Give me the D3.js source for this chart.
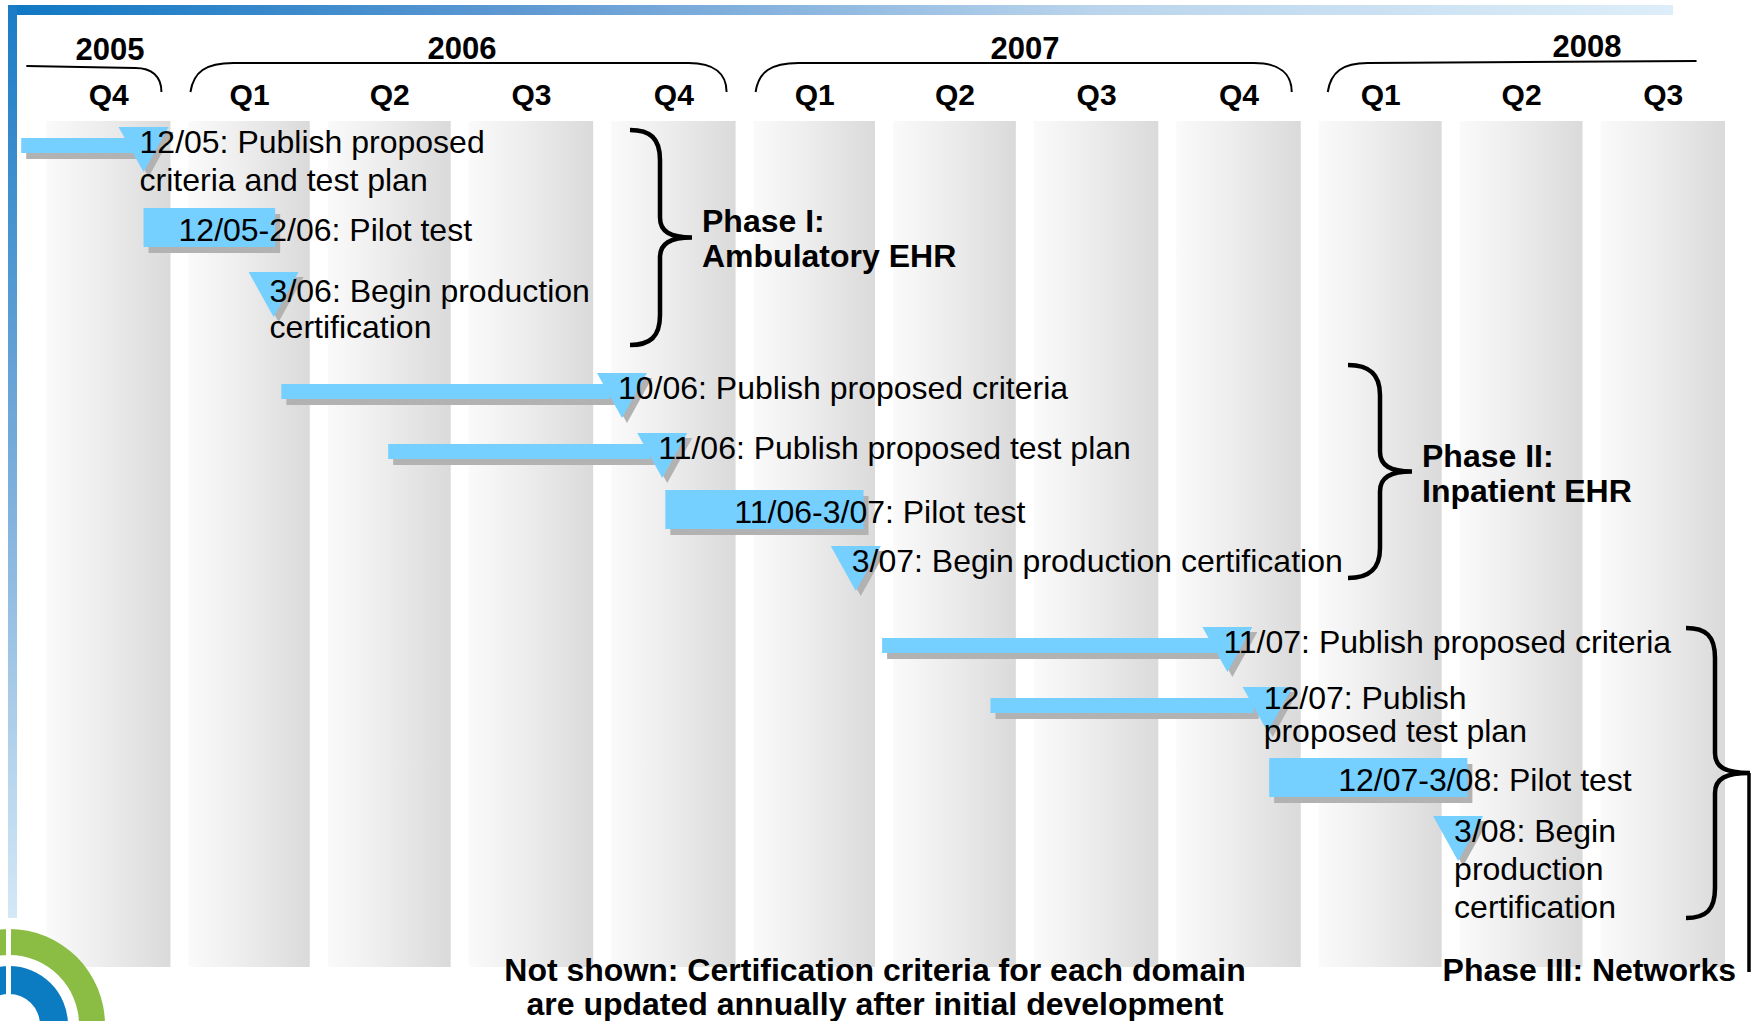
<!DOCTYPE html>
<html><head><meta charset="utf-8">
<script src="https://cdn.jsdelivr.net/npm/d3@7"></script>
<style>
html,body{margin:0;padding:0;background:#fff;}
svg{display:block;}
</style></head><body>
<svg id="chart" width="1757" height="1021"></svg>
<script>
// ---------------- data ----------------
const quarterLabels = ["Q4","Q1","Q2","Q3","Q4","Q1","Q2","Q3","Q4","Q1","Q2","Q3"];
const quarterBounds = ["2005-10-01","2006-01-01","2006-04-01","2006-07-01","2006-10-01","2007-01-01",
                       "2007-04-01","2007-07-01","2007-10-01","2008-01-01","2008-04-01","2008-07-01","2008-10-01"];
const yearLabels = ["2005","2006","2007","2008"];
const yearStarts = ["2005-09-17","2006-01-01","2007-01-01","2008-01-01"];
const yearEnds   = ["2006-01-01","2007-01-01","2008-01-01","2008-09-01"];

const milestoneLabels = [
  ["12/05: Publish proposed","criteria and test plan"],
  ["3/06: Begin production","certification"],
  ["10/06: Publish proposed criteria"],
  ["11/06: Publish proposed test plan"],
  ["3/07: Begin production certification"],
  ["11/07: Publish proposed criteria"],
  ["12/07: Publish","proposed test plan"],
  ["3/08: Begin","production","certification"]
];
const milestoneDates = ["2005-12-03","2006-02-25","2006-10-08","2006-11-03","2007-03-08","2007-11-03","2007-11-29","2008-03-31"];
const leadStarts = ["2005-09-15", null, "2006-03-02","2006-05-10", null, "2007-03-25","2007-06-03", null];
const leadEnds   = ["2005-11-26", null, "2006-09-30","2006-10-26", null, "2007-10-27","2007-11-20", null];

const pilotLabels = ["12/05-2/06: Pilot test","11/06-3/07: Pilot test","12/07-3/08: Pilot test"];
const pilotStarts = ["2005-12-03","2006-11-05","2007-11-30"];
const pilotEnds   = ["2006-02-26","2007-03-13","2008-04-06"];

const phaseLabels = [["Phase I:","Ambulatory EHR"],["Phase II:","Inpatient EHR"],["Phase III: Networks"]];
const footnote = ["Not shown: Certification criteria for each domain","are updated annually after initial development"];

// ---------------- layout ----------------
const FONT = "'Liberation Sans', Arial, Helvetica, sans-serif";
const BLUE = "#75cfff", SHADOW = "#b2b2b2";
const GAP = 18, COL_TOP = 121, COL_BOTTOM = 967;
const milestoneTop = [127, 272, 373, 433, 546, 627, 687, 816];
const milestoneBase = [26, 30, 26, 26, 26, 26, 22, 26];
const milestoneLineH = [38, 36, 38, 38, 38, 38, 33, 38];
const pilotTop = [208, 490, 758];
const pilotTextDx = [35, 69, 69];
const yearLabelX = [110, 462, 1025, 1587];
const yearLabelY = [60, 59, 59, 57];
const braces = [
  {x0:630, xs:660, xt:692, y0:130, y1:345},
  {x0:1348, xs:1380, xt:1412, y0:365, y1:578},
  {x0:1686, xs:1715, xt:1750, y0:628, y1:918}
];
const phaseText = [{x:702, y:232, lh:35, anchor:"start"},{x:1422, y:467, lh:35, anchor:"start"},{x:1736, y:981, lh:35, anchor:"end"}];

// ---------------- drawing ----------------
const parse = d3.timeParse("%Y-%m-%d");
const x = d3.scaleTime().domain([parse("2005-10-01"), parse("2008-10-01")]).range([46, 1743]);
const svg = d3.select("#chart");
const defs = svg.append("defs");

function linGrad(id, horiz, stops){
  const g = defs.append("linearGradient").attr("id", id)
    .attr("x1",0).attr("y1",0).attr("x2",horiz?1:0).attr("y2",horiz?0:1);
  stops.forEach(s => g.append("stop").attr("offset", s[0]).attr("stop-color", s[1]));
}
linGrad("colGrad", true, [[0,"#fafafa"],[0.45,"#ededed"],[1,"#dadada"]]);
linGrad("topGrad", true, [[0,"#0f78c4"],[0.3,"#5d98d2"],[0.65,"#b9d4ec"],[1,"#ddeef9"]]);
linGrad("leftGrad", false, [[0,"#1a7cc6"],[0.5,"#78acda"],[1,"#d4e8f6"]]);

svg.append("rect").attr("width",1757).attr("height",1021).attr("fill","#fff");

// columns
const colG = svg.append("g");
quarterLabels.forEach((q,i)=>{
  const s = x(parse(quarterBounds[i])), e = x(parse(quarterBounds[i+1]));
  colG.append("rect").attr("x", s).attr("y", COL_TOP).attr("width", e - s - GAP)
    .attr("height", COL_BOTTOM - COL_TOP).attr("fill","url(#colGrad)");
});

// frame bars
svg.append("rect").attr("x",8).attr("y",5).attr("width",1665).attr("height",10).attr("fill","url(#topGrad)");
svg.append("rect").attr("x",8).attr("y",5).attr("width",9).attr("height",913).attr("fill","url(#leftGrad)");

// quarter axis
const qMid = quarterLabels.map((q,i)=> x.invert((x(parse(quarterBounds[i])) + x(parse(quarterBounds[i+1])) - GAP)/2));
const axis = d3.axisTop(x).tickValues(qMid).tickFormat((d,i)=>quarterLabels[i]).tickSize(0).tickPadding(0);
const gAx = svg.append("g").attr("transform","translate(0,105)").call(axis)
  .attr("font-family", FONT).attr("font-size", 30).attr("font-weight","bold");
gAx.select(".domain").remove();
gAx.selectAll("text").attr("fill","#000").attr("dy","0");

// year braces
const hdr = svg.append("g").attr("fill","none").attr("stroke","#000").attr("stroke-width",2);
yearLabels.forEach((y,i)=>{
  const xl = x(parse(yearStarts[i])) + 2, xr = x(parse(yearEnds[i])) - 27;
  let d;
  if (i === 0) {
    d = `M${xl},66 L${xr-26},68 C${xr-10},68 ${xr},76 ${xr},92`;
  } else if (i === yearLabels.length - 1) {
    const xl2 = xl + 7, xr2 = x(parse(yearEnds[i]));
    d = `M${xl2},92 C${xl2+3},72 ${xl2+15},63 ${xl2+40},63 L${xr2},61`;
  } else {
    d = `M${xl},92 C${xl+3},72 ${xl+15},63 ${xl+43},63 L${xr-38},63 C${xr-12},63 ${xr},74 ${xr},92`;
  }
  hdr.append("path").attr("d", d);
  svg.append("text").attr("x", yearLabelX[i]).attr("y", yearLabelY[i]).attr("text-anchor","middle")
    .attr("font-family", FONT).attr("font-size", 31).attr("font-weight","bold").text(y);
});

// milestone rows
const rowG = svg.append("g");
milestoneDates.forEach((dStr,i)=>{
  const ax = x(parse(dStr)), top = milestoneTop[i];
  const g = rowG.append("g");
  const tri = `M${ax-25},${top} L${ax+25},${top} L${ax},${top+45} Z`;
  if (leadStarts[i]) {
    const s = x(parse(leadStarts[i])), e = x(parse(leadEnds[i]));
    g.append("rect").attr("x", s+5).attr("y", top+11+6).attr("width", e-s).attr("height",15).attr("fill",SHADOW);
  }
  g.append("path").attr("d", tri).attr("transform","translate(5,5)").attr("fill",SHADOW);
  if (leadStarts[i]) {
    const s = x(parse(leadStarts[i])), e = x(parse(leadEnds[i]));
    g.append("rect").attr("x", s).attr("y", top+11).attr("width", e-s).attr("height",15).attr("fill",BLUE);
  }
  g.append("path").attr("d", tri).attr("fill",BLUE);
  const t = g.append("text").attr("font-family",FONT).attr("font-size",32).attr("fill","#000")
    .attr("x", ax-4).attr("y", top + milestoneBase[i]);
  milestoneLabels[i].forEach((ln,j)=> t.append("tspan").attr("x", ax-4).attr("dy", j===0?0:milestoneLineH[i]).text(ln));
});

// pilot bars
pilotLabels.forEach((lab,i)=>{
  const s = x(parse(pilotStarts[i])), e = x(parse(pilotEnds[i])), top = pilotTop[i];
  rowG.append("rect").attr("x", s+5).attr("y", top+6).attr("width", e-s).attr("height",39).attr("fill",SHADOW);
  rowG.append("rect").attr("x", s).attr("y", top).attr("width", e-s).attr("height",39).attr("fill",BLUE);
  rowG.append("text").attr("font-family",FONT).attr("font-size",32).attr("fill","#000")
    .attr("x", s + pilotTextDx[i]).attr("y", top + 33).text(lab);
});

// phase braces
function bracePath(b){
  const ym = (b.y0 + b.y1)/2, r = 30, r2 = 20;
  return `M${b.x0},${b.y0} C${b.x0+20},${b.y0} ${b.xs},${b.y0+8} ${b.xs},${b.y0+r} ` +
         `L${b.xs},${ym-r2} C${b.xs},${ym-6} ${b.xs+10},${ym} ${b.xt},${ym} ` +
         `C${b.xs+10},${ym} ${b.xs},${ym+6} ${b.xs},${ym+r2} ` +
         `L${b.xs},${b.y1-r} C${b.xs},${b.y1-8} ${b.x0+20},${b.y1} ${b.x0},${b.y1}`;
}
braces.forEach(b => svg.append("path").attr("d", bracePath(b)).attr("fill","none")
  .attr("stroke","#000").attr("stroke-width",4.5));
const b3 = braces[2];
svg.append("line").attr("x1", b3.xt-1).attr("x2", b3.xt-1).attr("y1",(b3.y0+b3.y1)/2).attr("y2",972)
  .attr("stroke","#000").attr("stroke-width",3.5);

phaseLabels.forEach((lines,i)=>{
  const p = phaseText[i];
  const t = svg.append("text").attr("font-family",FONT).attr("font-size",32).attr("font-weight","bold")
    .attr("text-anchor", p.anchor).attr("x", p.x).attr("y", p.y);
  lines.forEach((ln,j)=> t.append("tspan").attr("x", p.x).attr("dy", j===0?0:p.lh).text(ln));
});

// footnote
const fn = svg.append("text").attr("font-family",FONT).attr("font-size",32).attr("font-weight","bold")
  .attr("text-anchor","middle").attr("x",875).attr("y",981);
footnote.forEach((ln,j)=> fn.append("tspan").attr("x",875).attr("dy", j===0?0:34).text(ln));

// logo (partial, bottom-left)
const logo = svg.append("g").attr("transform","translate(9,1025)");
logo.append("path").attr("d", d3.arc()({innerRadius:70, outerRadius:96, startAngle:0, endAngle:2*Math.PI})).attr("fill","#8bbd45");
logo.append("path").attr("d", d3.arc()({innerRadius:31, outerRadius:59, startAngle:0, endAngle:2*Math.PI})).attr("fill","#0b7cc2");
svg.append("rect").attr("x",6).attr("y",925).attr("width",5).attr("height",96).attr("fill","#fff");
</script>
</body></html>
